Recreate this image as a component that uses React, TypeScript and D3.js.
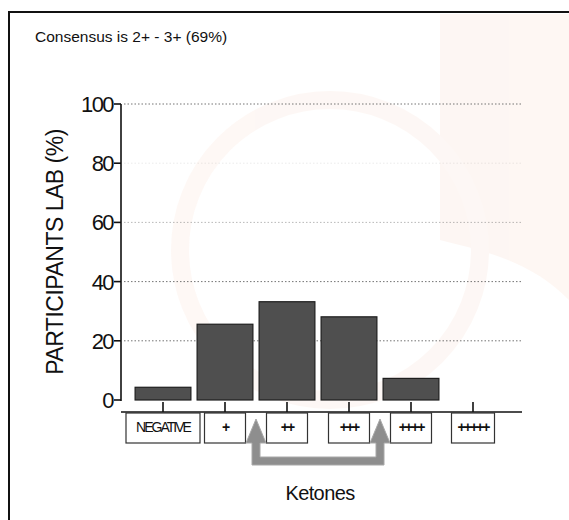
import React from "react";
import * as d3 from "d3";

// values
const categories = ["NEGATIVE", "+", "++", "+++", "++++", "+++++"];
const percents = [4.3, 25.6, 33.2, 28.1, 7.3, 0];
const yTicks = [0, 20, 40, 60, 80, 100];
const gridTicks = [20, 40, 60, 80, 100];
const boxWidths = [74, 41, 41, 41, 41, 43];
const consensusFrom = "+";
const consensusTo = "+++";

const W = 569;
const H = 520;
const font = "'Liberation Sans', Arial, sans-serif";

export default function App() {
  const y = d3.scaleLinear().domain([0, 100]).range([400, 104]);
  const x = d3
    .scaleBand<string>()
    .domain(categories)
    .range([132, 504])
    .paddingInner(0.1)
    .paddingOuter(0.05);
  const cx = (c: string) => (x(c) as number) + x.bandwidth() / 2;
  const step = x.step();

  const axisY = 412;
  const boxTop = 413;
  const boxH = 30;

  // arrows sit in the gaps left of "++" and right of "+++"
  const ax1 = cx(consensusFrom) + step / 2;
  const ax2 = cx(consensusTo) + step / 2;
  const arrowBase = 461;
  const headTip = 419;
  const headBase = 443;

  const gridOpacity = (t: number) => (t === 80 ? 0.12 : t === 60 ? 0.45 : 0.9);

  return (
    <svg
      width={W}
      height={H}
      style={{ position: "absolute", left: 0, top: 0, background: "#fff" }}
      fontFamily={font}
    >
      {/* faint watermark from the scan */}
      <g opacity={0.35}>
        <path d="M440,14 H569 V300 C530,260 480,250 440,240 Z" fill="#fbe7de" />
        <circle cx={330} cy={250} r={150} fill="none" stroke="#fcebe3" strokeWidth={18} />
      </g>

      {/* outer frame */}
      <rect x={9} y={12} width={W} height={H} fill="none" stroke="#111" strokeWidth={2} />

      <text x={35} y={42} fontSize={15.5} fill="#111">Consensus is 2+ - 3+ (69%)</text>

      {/* dotted grid */}
      {gridTicks.map((t) => (
        <line
          key={"g" + t}
          x1={124}
          x2={522}
          y1={y(t)}
          y2={y(t)}
          stroke="#666"
          strokeWidth={1}
          strokeDasharray="1.5 2"
          opacity={gridOpacity(t)}
        />
      ))}

      {/* y axis */}
      <line x1={121} x2={121} y1={y(100)} y2={401} stroke="#111" strokeWidth={1.6} />
      {yTicks.map((t) => (
        <g key={"t" + t}>
          <line x1={114} x2={121} y1={y(t)} y2={y(t)} stroke="#111" strokeWidth={1.6} />
          <text
            x={113}
            y={y(t) + 8}
            fontSize={22}
            letterSpacing={-1.6}
            textAnchor="end"
            fill="#111"
          >
            {t}
          </text>
        </g>
      ))}
      <text
        transform={`translate(63,252) rotate(-90)`}
        fontSize={23}
        letterSpacing={-0.5}
        textAnchor="middle"
        fill="#111"
      >
        PARTICIPANTS LAB (%)
      </text>

      {/* bars */}
      {categories.map((c, i) =>
        percents[i] > 0 ? (
          <rect
            key={"b" + c}
            x={x(c)}
            y={y(percents[i])}
            width={x.bandwidth()}
            height={y(0) - y(percents[i])}
            fill="#4f4f4f"
            stroke="#1e1e1e"
            strokeWidth={1.2}
          />
        ) : null
      )}

      {/* x axis */}
      <line x1={121} x2={522} y1={axisY} y2={axisY} stroke="#111" strokeWidth={1.6} />
      {categories.map((c) => (
        <line key={"xt" + c} x1={cx(c)} x2={cx(c)} y1={axisY} y2={402} stroke="#111" strokeWidth={1.6} />
      ))}

      {/* category label boxes */}
      {categories.map((c, i) => (
        <g key={"l" + c}>
          <rect
            x={cx(c) - boxWidths[i] / 2}
            y={boxTop}
            width={boxWidths[i]}
            height={boxH}
            fill="#fff"
            stroke="#333"
            strokeWidth={1.2}
          />
          <text
            x={cx(c)}
            y={boxTop + 19}
            fontSize={c === "NEGATIVE" ? 14 : 14}
            letterSpacing={c === "NEGATIVE" ? -2 : -2}
            textAnchor="middle"
            fill="#111"
            fontWeight={c === "NEGATIVE" ? "normal" : "bold"}
          >
            {c}
          </text>
        </g>
      ))}

      {/* consensus arrows */}
      <g fill="#8e8e8e" stroke="#a8a8a8" strokeWidth={1}>
        <path
          d={`M${ax1 - 4},${headBase} V${arrowBase + 4} H${ax2 + 4} V${headBase}
              H${ax2 + 10} L${ax2},${headTip} L${ax2 - 10},${headBase} H${ax2 - 4}
              V${arrowBase - 4} H${ax1 + 4} V${headBase} H${ax1 + 10}
              L${ax1},${headTip} L${ax1 - 10},${headBase} Z`}
        />
      </g>

      <text x={320} y={500} fontSize={20} letterSpacing={-0.6} textAnchor="middle" fill="#111">
        Ketones
      </text>
    </svg>
  );
}
